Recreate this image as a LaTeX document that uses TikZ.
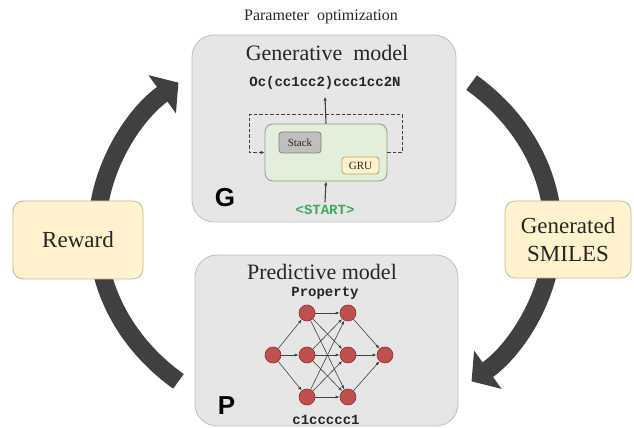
\documentclass[tikz,border=0pt]{standalone}
\usepackage{fontspec}
\setmainfont{Liberation Serif}
\setmonofont{Liberation Mono}
\newfontfamily\panelsans{Liberation Sans}
\usetikzlibrary{arrows.meta,positioning,calc}
\definecolor{ink}{HTML}{262626}
\definecolor{cyc}{HTML}{404040}
\definecolor{panelfill}{HTML}{E6E6E6}
\definecolor{panelline}{HTML}{BFBFBF}
\definecolor{tagfill}{HTML}{FFF2CC}
\definecolor{tagline}{HTML}{C9BA8C}
\definecolor{corefill}{HTML}{E2EFDA}
\definecolor{coreline}{HTML}{8E9A86}
\definecolor{stackfill}{HTML}{BFBFBF}
\definecolor{stackline}{HTML}{7F7F7F}
\definecolor{grufill}{HTML}{FFF2CC}
\definecolor{gruline}{HTML}{B8A06A}
\definecolor{neuron}{HTML}{C0504D}
\definecolor{neuronline}{HTML}{8C2F2D}
\definecolor{startgreen}{HTML}{3DAA5C}
\tikzset{
  panel/.style={
    draw=panelline, fill=panelfill, line width=0.8pt,
    rounded corners=22pt
  },
  tag/.style={
    draw=tagline, fill=tagfill, line width=0.8pt, rounded corners=10pt,
    align=center, text=ink, font=\fontsize{23}{28}\selectfont
  },
  title/.style={text=ink, font=\fontsize{22}{26}\selectfont},
  code/.style={text=ink, font=\ttfamily\bfseries\fontsize{14}{16}\selectfont, inner sep=1pt},
  panelmark/.style={text=black, font=\panelsans\bfseries\fontsize{26}{26}\selectfont},
  smallbox/.style={line width=0.8pt, rounded corners=3pt, text=ink,
    font=\fontsize{11}{13}\selectfont},
  neuronnode/.style={circle, draw=neuronline, fill=neuron, line width=0.6pt,
    minimum size=16pt, inner sep=0pt},
  cycarr/.style={draw=cyc, line width=18pt, -{Triangle[length=20pt,width=46pt]}},
  flow/.style={draw=cyc, line width=1.1pt, -{Latex[length=4pt,width=3.5pt]}},
  feedback/.style={draw=cyc, line width=1pt, dash pattern=on 3.5pt off 2pt,
    -{Latex[length=4pt,width=3.5pt]}},
  netarr/.style={draw=cyc, line width=0.6pt, -{Latex[length=4pt,width=3pt]}}
}

\begin{document}
\begin{tikzpicture}[x=1pt,y=1pt]
  \useasboundingbox (0,0) rectangle (634,428);
  % cycle arrows
  \coordinate (hub) at (325,196);
  \draw[cycarr] ([shift={(230:228pt and 195pt)}]hub)
    arc[start angle=230, end angle=130, x radius=228pt, y radius=195pt];
  \draw[cycarr] ([shift={(50:228pt and 195pt)}]hub)
    arc[start angle=50, end angle=-50, x radius=228pt, y radius=195pt];

  % panels
  \node[panel, minimum width=264pt, minimum height=187pt] (gen) at (324,299.5) {};
  \node[panel, minimum width=263pt, minimum height=171pt] (pred) at (326.5,87.5) {};
  \node[tag, minimum width=130pt, minimum height=78pt] (reward) at (78,188) {Reward};
  \node[tag, minimum width=126pt, minimum height=77pt] (smiles) at (568,188.5) {Generated\\SMILES};
  \node[text=ink, font=\fontsize{16}{18}\selectfont] (optim) at (321,411) {Parameter\ \ optimization};

  % generative model
  \node[title] (gentitle) at (327,375) {Generative\ \ model};
  \node[code] (product) at (325,345) {Oc(cc1cc2)ccc1cc2N};
  \node[smallbox, draw=coreline, fill=corefill, rounded corners=8pt,
    minimum width=122pt, minimum height=57pt] (core) at (326,275.5) {};
  \node[smallbox, draw=stackline, fill=stackfill,
    minimum width=42pt, minimum height=21pt] (stack) at (300,285.5) {Stack};
  \node[smallbox, draw=gruline, fill=grufill,
    minimum width=37pt, minimum height=17pt] (gru) at (360.5,262.5) {GRU};
  \node[code, text=startgreen] (start) at (325,218) {<START>};
  \node[panelmark] (gmark) at (225,230.5) {G};
  \draw[flow] (core.north) -- ([yshift=-6pt]product.south);
  \draw[flow] ([yshift=2pt]start.north) -- (core.south);
  \draw[feedback] (core.east) -- ++(15,0) |- ([xshift=-15pt,yshift=38pt]core.west) |- (core.west);

  % predictive model
  \node[title] (predtitle) at (322,156) {Predictive model};
  \node[code] (prop) at (325,135) {Property};
  \node[code] (mol) at (326,8) {c1ccccc1};
  \node[panelmark] (pmark) at (226.5,22) {P};
  \node[neuronnode] (in) at (273,73) {};
  \node[neuronnode] (ha) at (307,115) {};
  \node[neuronnode] (hb) at (307,73) {};
  \node[neuronnode] (hc) at (307,31) {};
  \node[neuronnode] (ka) at (348,115) {};
  \node[neuronnode] (kb) at (348,73) {};
  \node[neuronnode] (kc) at (348,31) {};
  \node[neuronnode] (out) at (385,73) {};
  \foreach \h in {ha,hb,hc} {
    \draw[netarr] (in) -- (\h);
    \foreach \k in {ka,kb,kc}
      \draw[netarr] (\h) -- (\k);
  }
  \foreach \k in {ka,kb,kc}
    \draw[netarr] (\k) -- (out);
\end{tikzpicture}
\end{document}
